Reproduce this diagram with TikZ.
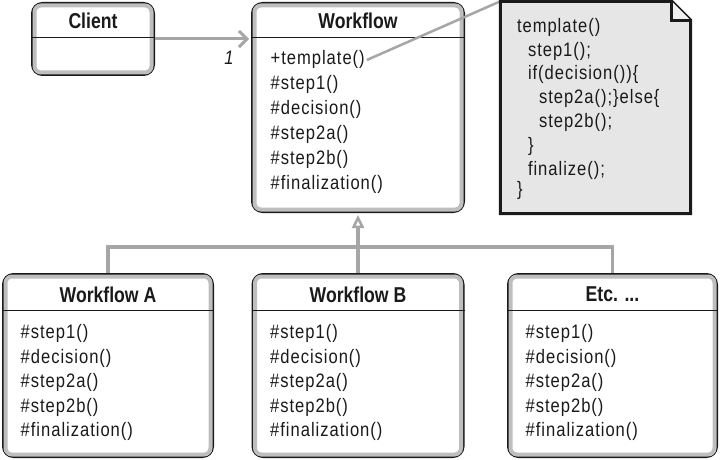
\documentclass[tikz,border=0pt]{standalone}
\usepackage{fontspec}
\setmainfont{Liberation Sans}
\newfontfamily\methfont{Liberation Sans}[FakeStretch=0.85,LetterSpace=5]
\newfontfamily\headfont{Liberation Sans}[FakeStretch=0.82]
\usepackage{xcolor}
\definecolor{edge}{HTML}{1A1A1A}
\definecolor{rim}{HTML}{BEBEBE}
\definecolor{wire}{HTML}{A6A6A6}
\definecolor{paper}{HTML}{E6E6E6}
\definecolor{flap}{HTML}{F0F0F0}
\usetikzlibrary{arrows.meta,positioning}
\newcommand\etcdots{...}
\tikzset{
  umlbox/.style={draw=edge,line width=3pt,rounded corners=10pt,fill=white,inner sep=0pt},
  ring/.style={draw=rim,line width=4pt,rounded corners=6.5pt},
  divider/.style={draw=edge,line width=1.2pt},
  head/.style={font=\headfont\bfseries\fontsize{21.5}{24}\selectfont,inner sep=0pt,text=edge},
  meth/.style={font=\methfont\fontsize{19.5}{22}\selectfont,inner sep=0pt,anchor=base west,text=edge},
  mult/.style={font=\methfont\itshape\fontsize{19.5}{22}\selectfont,inner sep=0pt,text=edge},
  notebox/.style={draw=edge,fill=paper,line width=3pt,line join=miter},
  foldline/.style={draw=edge,line width=3pt,line join=miter},
  assoc/.style={draw=wire,line width=3pt,-{Straight Barb[length=8pt,width=16pt]},shorten >=2pt},
  gen/.style={draw=wire,line width=3.5pt},
  genarr/.style={gen,-{Triangle[open,length=13pt,width=12pt,line width=2.5pt]},shorten >=2pt},
  hook/.style={draw=wire,line width=2.5pt},
}
\begin{document}
\begin{tikzpicture}[x=1pt,y=-1pt]
\useasboundingbox (0,0) rectangle (720,460);
% classes
\node[umlbox,minimum width=121,minimum height=71] (client) at (93,39) {};
\node[umlbox,minimum width=211,minimum height=208] (wf) at (358,107.5) {};
\node[umlbox,minimum width=209,minimum height=182] (wfa) at (108,365.5) {};
\node[umlbox,minimum width=210,minimum height=182] (wfb) at (358,365.5) {};
\node[umlbox,minimum width=208,minimum height=182] (etc) at (612.5,365.5) {};
\foreach \n/\d in {client/35.5,wf/35.5,wfa/37.5,wfb/37.5,etc/37.5}{
  \draw[ring] ([xshift=3.5pt,yshift=-3.5pt]\n.north west) rectangle ([xshift=-3.5pt,yshift=3.5pt]\n.south east);
  \draw[divider] ([yshift=-\d pt]\n.north west) -- ([yshift=-\d pt]\n.north east);
}
% titles
\foreach \n/\d/\t in {client/18.5/Client,wf/18.5/Workflow,wfa/21.5/Workflow A,wfb/21.5/Workflow B,etc/21.5/Etc. \etcdots}
  \node[head] (\n-t) at ([yshift=-\d pt]\n.north) {\t};
% operations
\foreach \m [count=\i] in {+template(),\#step1(),\#decision(),\#step2a(),\#step2b(),\#finalization()}
  \node[meth] (wf-\i) at ([xshift=19.5pt,yshift={-63-(\i-1)*24.8}]wf.north west) {\m};
\foreach \b in {wfa,wfb,etc}
  \foreach \m [count=\i] in {\#step1(),\#decision(),\#step2a(),\#step2b(),\#finalization()}
    \node[meth] (\b-\i) at ([xshift=18.5pt,yshift={-65.5-(\i-1)*24.6}]\b.north west) {\m};
% note
\node[minimum width=190,minimum height=212,inner sep=0pt] (note) at (595.5,107.5) {};
\draw[hook] ([xshift=2pt]wf-1.east) -- (note.north west);
\draw[notebox] (note.north west) -- ([xshift=-19pt]note.north east) -- ([yshift=-19pt]note.north east)
  -- (note.south east) -- (note.south west) -- cycle;
\fill[flap] ([xshift=-19pt]note.north east) -- ([xshift=-19pt,yshift=-19pt]note.north east) -- ([yshift=-19pt]note.north east) -- cycle;
\draw[foldline] ([xshift=-19pt,yshift=1.5pt]note.north east) |- ([xshift=1.5pt,yshift=-19pt]note.north east);
\foreach \lv/\by/\t [count=\i] in {0/31/template(),1/55/step1();,1/78/if(decision())\{,2/102/step2a();\}else\{,
    2/126/step2b();,1/150/\},1/174/finalize();,0/194/\}}
  \node[meth] (note-\i) at ([xshift={16.5+\lv*11},yshift=-\by pt]note.north west) {\t};
% connectors
\draw[assoc] (client.east) -- (wf.west |- client.east);
\node[mult] (one) at (229,58) {1};
\coordinate (bus) at (358,247);
\draw[gen] (wfa.north) |- (bus) -| (etc.north);
\draw[genarr] (wfb.north) -- (wf.south);
\end{tikzpicture}
\end{document}
